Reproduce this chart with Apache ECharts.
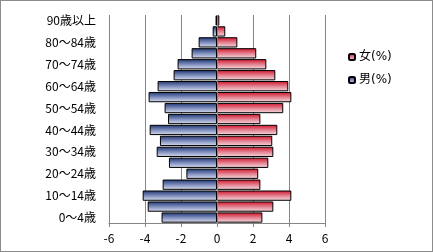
<!DOCTYPE html>
<html>
<head>
<meta charset="utf-8">
<script src="https://cdn.jsdelivr.net/npm/echarts@6/dist/echarts.min.js"></script>
<style>
html,body{margin:0;padding:0;background:#fff;}
#c{width:433px;height:252px;box-sizing:border-box;border:1px solid #8c8c8c;}
</style>
</head>
<body>
<div id="c"></div>
<script>
const categories = ['0〜4歳','5〜9歳','10〜14歳','15〜19歳','20〜24歳','25〜29歳','30〜34歳','35〜39歳','40〜44歳','45〜49歳','50〜54歳','55〜59歳','60〜64歳','65〜69歳','70〜74歳','75〜79歳','80〜84歳','85〜89歳','90歳以上'];
const male = [3.08, 3.85, 4.13, 3.02, 1.70, 2.67, 3.35, 3.17, 3.74, 2.72, 2.91, 3.80, 3.30, 2.41, 2.19, 1.41, 1.02, 0.24, 0.08];
const female = [2.52, 3.13, 4.13, 2.41, 2.29, 2.85, 3.13, 3.07, 3.35, 2.41, 3.68, 4.13, 3.96, 3.24, 2.74, 2.18, 1.13, 0.46, 0.13];
const xTicks = { min: -6, max: 6, interval: 2 };
const seriesNames = ['女(%)', '男(%)'];

const font = '"Noto Sans CJK JP", sans-serif';
const legendFont = '"DejaVu Sans", "Noto Sans CJK JP", sans-serif';
const blueGrad = new echarts.graphic.LinearGradient(0, 0, 0, 1, [
  {offset: 0, color: '#1c3370'}, {offset: 0.55, color: '#8795c2'}, {offset: 1, color: '#dde2f0'}]);
const redGrad = new echarts.graphic.LinearGradient(0, 0, 0, 1, [
  {offset: 0, color: '#d01028'}, {offset: 0.55, color: '#e48a98'}, {offset: 1, color: '#f6dde2'}]);

const chart = echarts.init(document.getElementById('c'), null, {renderer: 'canvas'});
chart.setOption({
  animation: false,
  backgroundColor: '#fff',
  grid: {left: 108, right: 107, top: 14, bottom: 28, containLabel: false},
  legend: {
    orient: 'vertical', left: 342, top: 45, itemGap: 11,
    itemWidth: 6, itemHeight: 6,
    data: seriesNames,
    textStyle: {fontFamily: legendFont, fontSize: 12, color: '#000', padding: [0, 0, 0, -1]}
  },
  xAxis: {
    type: 'value', min: xTicks.min, max: xTicks.max, interval: xTicks.interval,
    axisLine: {show: true, onZero: false, lineStyle: {color: '#868686'}},
    axisTick: {show: true, length: 4, lineStyle: {color: '#868686'}},
    axisLabel: {fontFamily: font, fontSize: 12, color: '#000', margin: 9},
    splitLine: {show: true, lineStyle: {color: '#868686', width: 1}}
  },
  yAxis: {
    type: 'category', data: categories,
    axisLine: {show: false}, axisTick: {show: false},
    axisLabel: {interval: 1, fontFamily: font, fontSize: 12, color: '#000', margin: 13}
  },
  series: [
    {
      name: seriesNames[0], type: 'bar', data: female,
      barGap: '-100%', barCategoryGap: '6%',
      itemStyle: {color: redGrad, borderColor: '#000', borderWidth: 1}
    },
    {
      name: seriesNames[1], type: 'bar', data: male.map(v => -v),
      barGap: '-100%', barCategoryGap: '6%',
      itemStyle: {color: blueGrad, borderColor: '#000', borderWidth: 1},
      markLine: {silent: true, symbol: 'none', label: {show: false},
        lineStyle: {color: '#868686', type: 'solid', width: 1},
        data: [{xAxis: 0}]}
    }
  ]
});
</script>
</body>
</html>
